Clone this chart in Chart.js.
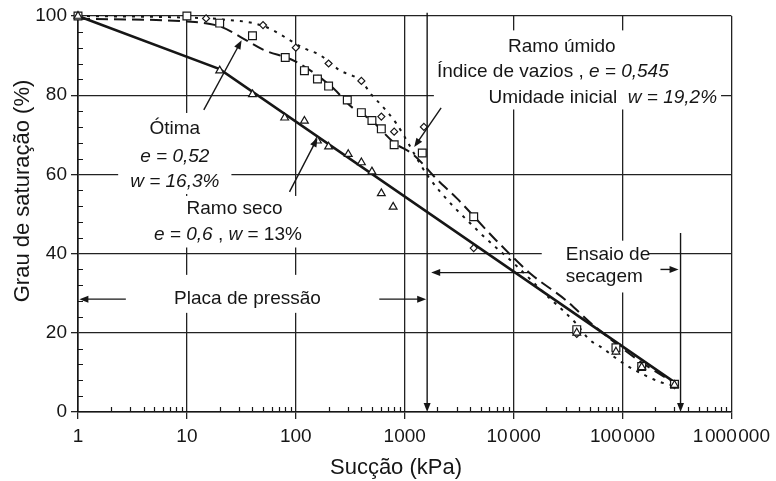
<!DOCTYPE html>
<html>
<head>
<meta charset="utf-8">
<script src="https://cdn.jsdelivr.net/npm/chart.js@4.4.0/dist/chart.umd.min.js"></script>
<style>
  html, body { margin: 0; padding: 0; background: #fff; }
  #box { width: 776px; height: 481px; }
</style>
</head>
<body>
<div id="box"><canvas id="curveChart" width="776" height="481"></canvas></div>
<script>
// eixo x: succao (kPa), escala log; eixo y: grau de saturacao (%)
var xTickValues = [1, 10, 100, 1000, 10000, 100000, 1000000];
var xTickLabels = ['1', '10', '100', '1000', '10\u200A000', '100\u200A000', '1\u200A000\u200A000'];

// ramo seco (e = 0,6, w = 13%) - curva ajustada e pontos (triangulos)
var secoLineKpa = [1, 20, 290000];
var secoLineSat = [100, 86.6, 7.8];
var secoPtsKpa = [1, 20, 40, 79, 120, 158, 200, 303, 400, 500, 610, 783, 38000, 87000, 150000, 300000];
var secoPtsSat = [100, 86.2, 80.2, 74.3, 73.5, 68.5, 67, 65.1, 63, 60.7, 55.2, 51.8, 20, 15.2, 11.3, 6.8];

// otima (e = 0,52, w = 16,3%) - tracejada e quadrados
var otimaLineKpa = [1, 10, 20, 32, 50, 100, 226, 310, 500, 800, 1200, 2000, 3000, 7000, 14500, 30000, 51000, 90000, 150000, 300000];
var otimaLineSat = [99.3, 98.6, 97.4, 94.5, 91.5, 88.5, 81.5, 77.5, 73.5, 68, 65, 58.6, 54, 43.2, 34.8, 28.3, 22.5, 17, 12.5, 7.3];
var otimaPtsKpa = [1, 10, 20, 40, 80, 120, 158, 200, 297, 400, 500, 610, 800, 1450, 4300, 38000, 87000, 150000, 300000];
var otimaPtsSat = [100, 100, 98.2, 95, 89.5, 86.2, 84.1, 82.3, 78.8, 75.6, 73.6, 71.5, 67.5, 65.4, 49.3, 20.8, 16.2, 11.5, 7];

// ramo umido (e = 0,545, w = 19,2%) - pontilhada e losangos
var umidoLineKpa = [1, 10, 20, 50, 120, 165, 250, 400, 500, 610, 830, 1650, 4800, 10000, 20000, 37000, 50000, 65000, 100000, 160000, 220000, 300000];
var umidoLineSat = [100, 99.6, 99.2, 97.5, 91.8, 90.2, 86.4, 83.5, 80, 77.5, 73, 59.4, 45.5, 37.6, 29.5, 22.5, 18.2, 16.2, 12.4, 9.3, 7.6, 6.6];
var umidoPtsKpa = [1, 15, 50, 100, 200, 400, 610, 800, 1500, 4300, 38000, 87000, 150000, 300000];
var umidoPtsSat = [100, 99.4, 97.7, 92, 88, 83.6, 74.6, 70.8, 72, 41.4, 19.7, 15.5, 11.5, 6.8];

var FONT = '"Liberation Sans", Arial, sans-serif';
var INK = '#161616';
var NOTE_SIZE = 19;

// textos sobre o grafico, em coordenadas dos eixos; pad = [esq, cima, dir, baixo]
var notes = [
    { pad: [12, 6, 12, 3], lines: [
        { x: 7.74, y: 71.6, align: 'center', parts: [['Ótima', false]] },
        { x: 7.74, y: 64.5, align: 'center', parts: [['e = 0,52', true]] },
        { x: 7.74, y: 58.2, align: 'center', parts: [['w = 16,3%', true]] }
    ] },
    { pad: [3, 3, 4, 3], lines: [
        { x: 27.4, y: 51.4, align: 'center', parts: [['Ramo seco', false]] },
        { x: 23.8, y: 44.7, align: 'center', parts: [['e = 0,6', true], [' , ', false], ['w', true], [' = 13%', false]] }
    ] },
    { pad: [12, 14, 16, 5], lines: [
        { x: 36, y: 28.7, align: 'center', parts: [['Placa de pressão', false]] }
    ] },
    { pad: [3, 7, 4, 2], lines: [
        { x: 27700, y: 92.2, align: 'center', parts: [['Ramo úmido', false]] },
        { x: 22900, y: 85.9, align: 'center', parts: [['Índice de vazios , ', false], ['e = 0,545', true]] },
        { x: 65800, y: 79.3, align: 'center', parts: [['Umidade inicial  ', false], ['w = 19,2%', true]] }
    ] },
    { pad: [24, 5, -2, 6], lines: [
        { x: 30100, y: 39.6, align: 'left', parts: [['Ensaio de', false]] },
        { x: 30100, y: 34.1, align: 'left', parts: [['secagem', false]] }
    ] }
];

// setas: [x0, y0, x1, y1], ponta em (x1, y1)
var arrows = [
    [14.3, 76.3, 31.8, 93.9],
    [87.5, 55.6, 158, 69.2],
    [2160, 76.8, 1222, 66.9],
    [1607, 100.8, 1607, 0],
    [341000, 45.2, 341000, 0],
    [2.75, 28.5, 1.03, 28.5],
    [584, 28.5, 1574, 28.5],
    [13800, 35.2, 1750, 35.2],
    [223000, 36, 327000, 36]
];

function pairs(xs, ys) {
    return xs.map(function (x, i) { return { x: x, y: ys[i] }; });
}

function fontFor(italic) {
    return (italic ? 'italic ' : '') + NOTE_SIZE + 'px ' + FONT;
}

function drawNote(ctx, xs, ys, note) {
    var rows = note.lines.map(function (ln) {
        var w = 0;
        ln.parts.forEach(function (p) {
            ctx.font = fontFor(p[1]);
            w += ctx.measureText(p[0]).width;
        });
        var cx = xs.getPixelForValue(ln.x);
        var cy = ys.getPixelForValue(ln.y);
        return { left: ln.align === 'left' ? cx : cx - w / 2, cy: cy, w: w, parts: ln.parts };
    });
    var half = NOTE_SIZE / 2;
    var x0 = Math.min.apply(null, rows.map(function (r) { return r.left; })) - note.pad[0];
    var x1 = Math.max.apply(null, rows.map(function (r) { return r.left + r.w; })) + note.pad[2];
    var y0 = Math.min.apply(null, rows.map(function (r) { return r.cy; })) - half - note.pad[1];
    var y1 = Math.max.apply(null, rows.map(function (r) { return r.cy; })) + half + note.pad[3];
    ctx.fillStyle = '#fff';
    ctx.fillRect(x0, y0, x1 - x0, y1 - y0);

    ctx.fillStyle = INK;
    ctx.textBaseline = 'middle';
    ctx.textAlign = 'left';
    rows.forEach(function (r) {
        var x = r.left;
        r.parts.forEach(function (p) {
            ctx.font = fontFor(p[1]);
            ctx.fillText(p[0], x, r.cy);
            x += ctx.measureText(p[0]).width;
        });
    });
}

function drawArrow(ctx, ax, ay, bx, by) {
    var ang = Math.atan2(by - ay, bx - ax);
    var len = 9, half = 3.5;
    ctx.beginPath();
    ctx.moveTo(ax, ay);
    ctx.lineTo(bx - Math.cos(ang) * len * 0.8, by - Math.sin(ang) * len * 0.8);
    ctx.stroke();
    ctx.beginPath();
    ctx.moveTo(bx, by);
    ctx.lineTo(bx - Math.cos(ang) * len - Math.sin(ang) * half, by - Math.sin(ang) * len + Math.cos(ang) * half);
    ctx.lineTo(bx - Math.cos(ang) * len + Math.sin(ang) * half, by - Math.sin(ang) * len - Math.cos(ang) * half);
    ctx.closePath();
    ctx.fill();
}

var extrasPlugin = {
    id: 'extras',
    beforeDatasetsDraw: function (chart) {
        var ctx = chart.ctx, xs = chart.scales.x, ys = chart.scales.y;
        var area = chart.chartArea;
        ctx.save();
        notes.forEach(function (n) { drawNote(ctx, xs, ys, n); });

        // marcas secundarias: 2..9 em cada decada e a cada 4 % no eixo y
        ctx.strokeStyle = INK;
        ctx.lineWidth = 1.2;
        ctx.beginPath();
        for (var d = 0; d < 6; d++) {
            for (var k = 2; k <= 9; k++) {
                var px = Math.round(xs.getPixelForValue(k * Math.pow(10, d))) + 0.5;
                ctx.moveTo(px, area.bottom);
                ctx.lineTo(px, area.bottom - 5);
            }
        }
        for (var v = 4; v < 100; v += 4) {
            if (v % 20 === 0) continue;
            var py = Math.round(ys.getPixelForValue(v)) + 0.5;
            ctx.moveTo(area.left, py);
            ctx.lineTo(area.left + 5, py);
        }
        ctx.stroke();
        ctx.restore();
    },
    afterDatasetsDraw: function (chart) {
        var ctx = chart.ctx, xs = chart.scales.x, ys = chart.scales.y;
        ctx.save();
        ctx.strokeStyle = INK;
        ctx.fillStyle = INK;
        ctx.lineWidth = 1.4;
        arrows.forEach(function (a) {
            drawArrow(ctx, xs.getPixelForValue(a[0]), ys.getPixelForValue(a[1]),
                xs.getPixelForValue(a[2]), ys.getPixelForValue(a[3]));
        });

        // titulos dos eixos
        ctx.fillStyle = INK;
        ctx.font = '22px ' + FONT;
        ctx.textAlign = 'center';
        ctx.textBaseline = 'middle';
        ctx.fillText('Sucção (kPa)', 396, 468);
        ctx.translate(23, 191);
        ctx.rotate(-Math.PI / 2);
        ctx.fillText('Grau de saturação (%)', 0, 0);
        ctx.restore();
    }
};

function markerSet(data, style, radius) {
    return {
        data: data,
        showLine: false,
        pointStyle: style,
        pointRadius: radius,
        pointBorderWidth: 1.2,
        pointBorderColor: INK,
        pointBackgroundColor: '#fff',
        borderColor: INK,
        clip: false,
        order: 0
    };
}

function curveSet(data, width, dash, smooth) {
    return {
        data: data,
        borderColor: INK,
        borderWidth: width,
        borderDash: dash,
        pointRadius: 0,
        fill: false,
        cubicInterpolationMode: smooth ? 'monotone' : 'default',
        tension: 0,
        clip: false,
        order: 1
    };
}

var ctx = document.getElementById('curveChart').getContext('2d');
var curveChart = new Chart(ctx, {
    type: 'line',
    data: {
        datasets: [
            markerSet(pairs(secoPtsKpa, secoPtsSat), 'triangle', 4.5),
            markerSet(pairs(otimaPtsKpa, otimaPtsSat), 'rect', 5.5),
            markerSet(pairs(umidoPtsKpa, umidoPtsSat), 'rectRot', 3.5),
            curveSet(pairs(secoLineKpa, secoLineSat), 2.6, [], false),
            curveSet(pairs(otimaLineKpa, otimaLineSat), 2, [12, 6], true),
            curveSet(pairs(umidoLineKpa, umidoLineSat), 2, [3, 6], true)
        ]
    },
    options: {
        responsive: false,
        devicePixelRatio: 1,
        animation: false,
        layout: { padding: { top: 16, right: 43, left: 0, bottom: 0 } },
        plugins: {
            legend: { display: false },
            tooltip: { enabled: false }
        },
        scales: {
            x: {
                type: 'logarithmic',
                min: 1,
                max: 1000000,
                afterBuildTicks: function (s) {
                    s.ticks = xTickValues.map(function (v) { return { value: v }; });
                },
                afterFit: function (s) { s.height = 69; },
                ticks: {
                    autoSkip: false,
                    maxRotation: 0,
                    padding: 6,
                    color: INK,
                    font: { family: FONT, size: 19 },
                    callback: function (value, index) { return xTickLabels[index]; }
                },
                grid: { color: '#222', lineWidth: 1.3, tickLength: 7 },
                border: { color: INK, width: 1.6 },
                title: { display: false }
            },
            y: {
                min: 0,
                max: 100,
                afterFit: function (s) { s.width = 78; },
                ticks: {
                    stepSize: 20,
                    padding: 4,
                    color: INK,
                    font: { family: FONT, size: 19 }
                },
                grid: { color: '#222', lineWidth: 1.3, tickLength: 7 },
                border: { color: INK, width: 1.6 },
                title: { display: false }
            }
        }
    },
    plugins: [extrasPlugin]
});
</script>
</body>
</html>
